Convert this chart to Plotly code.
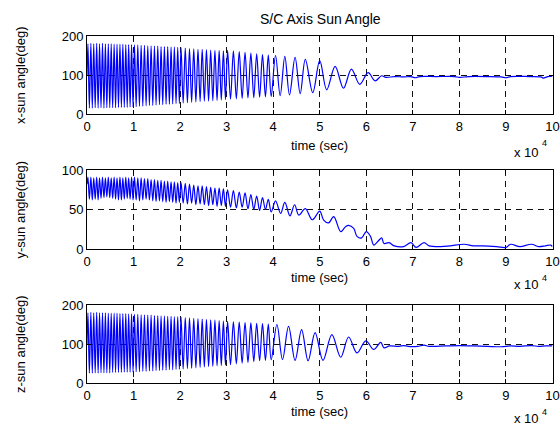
import plotly.graph_objects as go

# Time is in units of 1e4 s (axis shows "x 10^4").
# Extreme points (peaks/troughs) of the fast oscillation, shared time grid 0..4
t_fast = [
    0.000, 0.020, 0.051, 0.083, 0.114, 0.145, 0.176, 0.208, 0.239, 0.270, 0.301,
    0.333, 0.364, 0.395, 0.426, 0.458, 0.489, 0.520, 0.551, 0.583, 0.614, 0.645,
    0.676, 0.708, 0.739, 0.770, 0.801, 0.833, 0.864, 0.895, 0.926, 0.958, 0.989,
    1.020, 1.056, 1.091, 1.127, 1.163, 1.199, 1.234, 1.270, 1.306, 1.341, 1.377,
    1.413, 1.449, 1.484, 1.520, 1.556, 1.591, 1.627, 1.663, 1.699, 1.734, 1.770,
    1.806, 1.841, 1.877, 1.913, 1.949, 1.984,
    2.020, 2.066, 2.111, 2.157, 2.202, 2.248, 2.293, 2.339, 2.384, 2.430, 2.475,
    2.521, 2.566, 2.612, 2.657, 2.703, 2.748, 2.794, 2.839, 2.885, 2.930, 2.975,
    3.020, 3.083, 3.145, 3.208, 3.270, 3.333, 3.395, 3.458, 3.520, 3.583, 3.645,
    3.708, 3.770, 3.833, 3.895, 3.957,
]

# x-axis sun angle (deg)
x_fast = [
    100,
    180, 15, 181, 15, 180, 16, 181, 15, 180, 16, 181, 15, 180, 16, 180, 16,
    180, 16, 179, 16, 179, 17, 179, 17, 179, 17, 178, 17, 178, 18, 178, 18,
    177, 19, 177, 20, 176, 20, 176, 21, 175, 22, 175, 22, 174, 23, 174, 24,
    173, 24, 173, 25, 173, 25, 172, 26, 172, 27, 171, 27,
    170, 28, 169, 29, 168, 30, 167, 31, 166, 32, 166, 33, 165, 33, 164, 34,
    163, 35, 163, 36, 162, 37,
    163, 38, 162, 39, 160, 40, 158, 41, 156, 42, 154, 43, 152, 44, 151, 45,
]
x_tail_t = [
    4.05, 4.15, 4.25, 4.35, 4.47, 4.58, 4.69, 4.85, 5.00, 5.15, 5.33, 5.51,
    5.68, 5.86, 6.04, 6.19, 6.33, 6.42, 6.60, 6.80, 6.95, 7.05, 7.15, 7.50,
    7.90, 8.00, 8.20, 8.60, 8.90, 9.00, 9.10, 9.50, 9.75, 9.80, 9.90, 10.00,
]
x_tail = [
    150, 47, 148, 49, 145, 52, 140, 55, 137, 62, 122, 66,
    115, 76, 106, 85, 98, 94, 96, 95, 96, 93, 96, 96,
    96, 94, 96, 96, 95, 93, 96, 96, 95, 92, 96, 97,
]

# y-axis sun angle (deg)
y_fast = [
    82,
    91, 63, 91, 62, 90, 63, 91, 62, 90, 64, 91, 65, 90, 66, 91, 65,
    90, 64, 91, 63, 90, 62, 91, 62, 90, 63, 91, 64, 90, 63, 91, 62,
    91, 62, 90, 61, 90, 62, 89, 63, 89, 62, 88, 61, 88, 60, 87, 61,
    87, 60, 86, 59, 86, 60, 85, 59, 85, 58, 84, 59,
    84, 58, 83, 57, 82, 58, 81, 56, 80, 57, 80, 56, 79, 55, 78, 56,
    77, 54, 77, 55, 76, 54,
    75, 53, 74, 52, 72, 53, 71, 51, 69, 50, 67, 49, 65, 50, 63, 47,
]
y_tail_t = [
    4.05, 4.16, 4.25, 4.36, 4.46, 4.55, 4.69, 4.84, 5.00, 5.08, 5.19, 5.30,
    5.45, 5.55, 5.62, 5.73, 5.80, 5.90, 6.00, 6.09, 6.16, 6.27, 6.33, 6.38,
    6.49, 6.60, 6.80, 6.96, 7.07, 7.24, 7.35, 7.60, 7.80, 8.10, 8.30, 8.50,
    8.80, 9.00, 9.10, 9.30, 9.55, 9.70, 9.85, 9.96, 10.00,
]
y_tail = [
    61, 45, 59, 42, 56, 43, 51, 37, 48, 37, 33, 41,
    22, 28, 30, 26, 16, 14, 22, 16, 5, 11, 14, 7,
    8, 4, 3, 8, 2, 8, 4, 3, 4, 6, 4, 4,
    3, 2, 6, 3, 6, 3, 4, 5, 3,
]

# z-axis sun angle (deg)
z_fast = [
    100,
    180, 25, 181, 25, 180, 26, 181, 25, 180, 26, 180, 26, 180, 26, 179, 26,
    179, 27, 179, 27, 179, 27, 178, 27, 178, 28, 178, 28, 177, 28, 177, 28,
    176, 29, 176, 29, 175, 30, 175, 30, 174, 31, 174, 31, 173, 32, 173, 32,
    172, 33, 172, 33, 171, 34, 171, 34, 170, 35, 170, 35,
    169, 36, 168, 37, 167, 38, 166, 39, 165, 40, 164, 41, 163, 42, 162, 43,
    161, 44, 160, 45, 159, 46,
    158, 47, 157, 49, 156, 51, 155, 53, 154, 55, 153, 57, 152, 58, 151, 60,
]
z_tail_t = [
    4.08, 4.20, 4.33, 4.47, 4.61, 4.75, 4.90, 5.07, 5.26, 5.45, 5.62, 5.80,
    5.99, 6.16, 6.31, 6.38, 6.50, 6.70, 6.80, 6.90, 7.10, 7.24, 7.35, 7.70,
    8.00, 8.30, 8.60, 8.90, 9.10, 9.30, 9.55, 9.70, 9.85, 10.00,
]
z_tail = [
    150, 60, 145, 58, 137, 57, 129, 58, 124, 66, 118, 77,
    108, 86, 104, 90, 95, 94, 96, 94, 94, 97, 94, 95,
    96, 95, 94, 93, 95, 94, 96, 94, 95, 95,
]

x_ticks = [0, 1, 2, 3, 4, 5, 6, 7, 8, 9, 10]
x_tick_text = ["0", "1", "2", "3", "4", "5", "6", "7", "8", "9", "10"]
y_ticks_xz = [0, 100, 200]
y_ticks_y = [0, 50, 100]
y_labels = ["x-sun angle(deg)", "y-sun angle(deg)", "z-sun angle(deg)"]
title_text = "S/C Axis Sun Angle"
x_label = "time (sec)"

W, H = 560, 425


def px(xw):
    return xw / W


def py(yw):
    return 1 - yw / H


FONT = "Liberation Sans, Arial, Helvetica, sans-serif"
BLUE = "#0000ff"
BLACK = "#000000"

series = [
    (t_fast + x_tail_t, x_fast + x_tail, [0, 200], y_ticks_xz),
    (t_fast + y_tail_t, y_fast + y_tail, [0, 100], y_ticks_y),
    (t_fast + z_tail_t, z_fast + z_tail, [0, 200], y_ticks_xz),
]
for t, v, _, _ in series:
    assert len(t) == len(v)

# axes boxes in pixels (top, bottom), shared left/right edges
boxes = [(36, 114), (170, 249), (305, 383)]
left_px, right_px = 87, 552.5
# offsets below each box for: axis title, "x 10", exponent
label_offsets = [(31, 38, 29), (28, 35, 29), (28, 35, 29)]

fig = go.Figure()
axis_common = dict(
    showgrid=True, gridcolor="#111111", gridwidth=1, griddash="6px,5px",
    showline=True, linecolor=BLACK, linewidth=1, mirror="ticks",
    ticks="inside", ticklen=4, tickcolor=BLACK, tickwidth=1,
    zeroline=False, fixedrange=True, automargin=False,
    tickfont=dict(family=FONT, size=13, color=BLACK),
)
text_font = dict(family=FONT, size=13, color=BLACK)

annotations = []
for i, ((t, v, yr, yt), (top, bot), (d_lab, d_x10, d_exp)) in enumerate(
        zip(series, boxes, label_offsets), start=1):
    sx = "" if i == 1 else str(i)
    fig.add_trace(go.Scatter(
        x=t, y=v, mode="lines", xaxis="x" + sx, yaxis="y" + sx,
        line=dict(color=BLUE, width=1.2, shape="spline", smoothing=1.0),
        hoverinfo="skip", showlegend=False,
    ))
    fig.layout["xaxis" + sx] = dict(
        axis_common, domain=[px(left_px), px(right_px)], range=[0, 10],
        tickvals=x_ticks, ticktext=x_tick_text, anchor="y" + sx,
    )
    fig.layout["yaxis" + sx] = dict(
        axis_common, domain=[py(bot), py(top)], range=yr,
        tickvals=yt, anchor="x" + sx,
    )
    mid = (top + bot) / 2
    annotations.append(dict(
        text=y_labels[i - 1], textangle=-90, x=px(20), y=py(mid),
        xanchor="center", yanchor="middle", font=text_font,
    ))
    annotations.append(dict(
        text=x_label, x=px((left_px + right_px) / 2), y=py(bot + d_lab),
        xanchor="center", yanchor="middle", font=text_font,
    ))
    annotations.append(dict(
        text="x 10", x=px(541), y=py(bot + d_x10),
        xanchor="right", yanchor="middle", font=text_font,
    ))
    annotations.append(dict(
        text="4", x=px(544), y=py(bot + d_exp),
        xanchor="center", yanchor="middle",
        font=dict(family=FONT, size=9, color=BLACK),
    ))

annotations.append(dict(
    text=title_text, x=px(320), y=py(19),
    xanchor="center", yanchor="middle",
    font=dict(family=FONT, size=14, color=BLACK),
))
for a in annotations:
    a.update(xref="paper", yref="paper", showarrow=False)

fig.update_layout(
    width=W, height=H, margin=dict(l=0, r=0, t=0, b=0),
    paper_bgcolor="#ffffff", plot_bgcolor="#ffffff",
    annotations=annotations, showlegend=False,
)

# keep the figure flush with the page corner
fig.write_html(
    "out.html",
    config={"displayModeBar": False},
    post_script="document.body.style.margin='0px';",
)
